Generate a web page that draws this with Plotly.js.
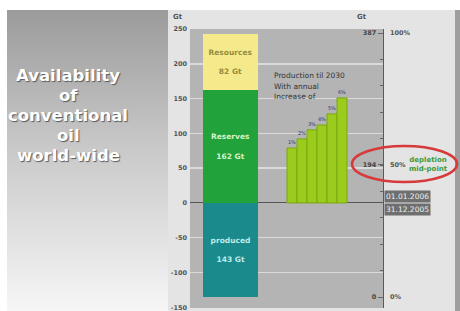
<!DOCTYPE html>
<html>
<head>
<meta charset="utf-8">
<script src="https://cdn.plot.ly/plotly-3.0.1.min.js"></script>
<style>
  html, body { margin: 0; padding: 0; background: #ffffff; }
  #wrap { position: relative; width: 460px; height: 311px; overflow: hidden; }
  .bg { position: absolute; }
  #leftPanel { left: 7px; top: 10px; width: 161px; height: 301px;
    background: linear-gradient(to bottom, #9b9b9b 0%, #c8c8c8 45%, #f6f6f6 100%); }
  #midPanel { left: 168px; top: 10px; width: 287px; height: 301px; background: #e4e4e4; }
  #edge { left: 455px; top: 10px; width: 5px; height: 301px; background: #9e9e9e; }
  #chart { position: absolute; left: 0; top: 0; width: 460px; height: 311px; }
</style>
</head>
<body>
<div id="wrap">
  <div class="bg" id="leftPanel"></div>
  <div class="bg" id="midPanel"></div>
  <div class="bg" id="edge"></div>
  <div id="chart"></div>
</div>
<script>
// ---- data ----
const stackLabels = ['produced', 'Reserves', 'Resources'];
const stackTexts = ['produced<br><br>143 Gt', 'Reserves<br><br>162 Gt', 'Resources<br><br>82 Gt'];
const stackValues = [-135, 162, 81];
const stackColors = ['#1b8a8c', '#22a23a', '#f4ea8c'];
const stackTextColors = ['#bfeaea', '#d6f2c6', '#9a8a3c'];
const stackPos = 4.05;

const prodPos = [10.2, 11.2, 12.2, 13.2, 14.2, 15.2];
const prodValues = [79, 92, 105, 112, 128, 151];
const prodLabels = ['1%', '2%', '3%', '4%', '5%', '6%'];

const leftTicks = [250, 200, 150, 100, 50, 0, -50, -100, -150];
const leftTickText = ['250', '200', '150', '100', '50', '0', '-50', '-100', '-150'];
const rightTickVals = [0, 194, 387];
const rightTickText = ['0', '194', '387'];
const rightPct = ['0%', '50%', '100%'];

const titleLines = ['Availability', 'of', 'conventional', 'oil', 'world-wide'];
const noteLines = ['Production til 2030', 'With annual', 'Increase of'];
const dateLines = ['01.01.2006', '31.12.2005'];

// ---- traces ----
const traces = stackLabels.map((name, i) => ({
  type: 'bar', name: name,
  x: [stackPos], y: [stackValues[i]], width: 5.5,
  marker: { color: stackColors[i], line: { width: 0 } },
  text: [stackTexts[i]], textposition: 'inside', insidetextanchor: 'middle',
  textangle: 0, constraintext: 'none',
  insidetextfont: { family: 'DejaVu Sans', size: 7.5, color: stackTextColors[i], weight: 'bold' },
  hoverinfo: 'skip', yaxis: 'y'
}));

traces.push({
  type: 'bar', name: 'production',
  x: prodPos, y: prodValues, width: 1.0,
  marker: { color: '#9bcb1c', line: { color: '#78a80e', width: 1 } },
  text: prodLabels, textposition: 'outside', cliponaxis: false,
  outsidetextfont: { family: 'DejaVu Sans', size: 5, color: '#2e3a66' },
  textangle: 0, constraintext: 'none',
  hoverinfo: 'skip', yaxis: 'y'
});

// invisible trace for the right axis
traces.push({ type: 'scatter', x: [0], y: [0], yaxis: 'y2', mode: 'markers',
  marker: { opacity: 0 }, hoverinfo: 'skip', showlegend: false });

// ---- annotations ----
const px = v => (v - 190) / 193;   // paper x from layout pixels
const py = v => (308 - v) / 279;   // paper y from layout pixels
const ann = [];
const titleY = [75, 95, 115, 135, 155];
titleLines.forEach((t, i) => ann.push({
  text: t, xref: 'paper', yref: 'paper', x: px(68), y: py(titleY[i]),
  xanchor: 'center', yanchor: 'middle', showarrow: false,
  font: { family: 'DejaVu Sans', size: 16.5, color: '#ffffff', weight: 'bold',
          shadow: '1px 1px 1px #5a5a5a' }
}));
const noteY = [75, 86, 97];
noteLines.forEach((t, i) => ann.push({
  text: t, xref: 'paper', yref: 'paper', x: px(272), y: py(noteY[i]),
  xanchor: 'left', yanchor: 'middle', showarrow: false,
  font: { family: 'DejaVu Sans', size: 7.5, color: '#333333' }
}));
rightTickVals.forEach((v, i) => ann.push({
  text: rightPct[i], xref: 'paper', yref: 'y2', x: 1, y: v, xshift: 5,
  xanchor: 'left', yanchor: 'middle', showarrow: false,
  font: { family: 'DejaVu Sans', size: 6.5, color: '#555555', weight: 'bold' }
}));
ann.push({
  text: 'depletion<br>mid-point', xref: 'paper', yref: 'y2', x: px(428), y: 194,
  xanchor: 'center', yanchor: 'middle', showarrow: false, align: 'center',
  font: { family: 'DejaVu Sans', size: 7, color: '#3c9a3c', weight: 'bold' }
});
const dateY = [196, 209];
dateLines.forEach((t, i) => ann.push({
  text: t, xref: 'paper', yref: 'paper', x: px(384), y: py(dateY[i]),
  xanchor: 'left', yanchor: 'middle', showarrow: false,
  bgcolor: '#6f6f6f', borderpad: 1,
  font: { family: 'DejaVu Sans', size: 7.5, color: '#f0f0f0' }
}));
ann.push({ text: 'Gt', xref: 'paper', yref: 'paper', x: px(178), y: py(17),
  xanchor: 'center', yanchor: 'middle', showarrow: false,
  font: { family: 'DejaVu Sans', size: 7, color: '#555555', weight: 'bold' } });
ann.push({ text: 'Gt', xref: 'paper', yref: 'paper', x: px(362), y: py(17),
  xanchor: 'center', yanchor: 'middle', showarrow: false,
  font: { family: 'DejaVu Sans', size: 7, color: '#555555', weight: 'bold' } });

const layout = {
  width: 460, height: 311,
  margin: { l: 190, r: 77, t: 29, b: 3, pad: 0 },
  paper_bgcolor: 'rgba(0,0,0,0)', plot_bgcolor: '#b4b4b4',
  showlegend: false, barmode: 'relative', bargap: 0,
  xaxis: { range: [0, 19.3], visible: false, fixedrange: true },
  yaxis: {
    range: [-151, 250], tickvals: leftTicks, ticktext: leftTickText, ticks: '',
    showgrid: true, gridcolor: '#dadada', gridwidth: 1.5,
    zeroline: true, zerolinecolor: '#555555', zerolinewidth: 1,
    tickfont: { family: 'DejaVu Sans', size: 6.5, color: '#555555', weight: 'bold' },
    ticklabelstandoff: 2, ticklabeloverflow: 'allow', fixedrange: true
  },
  yaxis2: {
    overlaying: 'y', side: 'right', range: [-16, 393],
    tickvals: rightTickVals, ticktext: rightTickText,
    ticklabelposition: 'inside', ticks: 'inside', ticklen: 5, tickcolor: '#666666',
    minor: { tick0: 0, dtick: 38.7, ticks: 'inside', ticklen: 3, tickcolor: '#666666', showgrid: false },
    showgrid: false, zeroline: false,
    showline: true, linecolor: '#5a5a5a', linewidth: 1,
    tickfont: { family: 'DejaVu Sans', size: 6.5, color: '#444444', weight: 'bold' },
    fixedrange: true
  },
  shapes: [
    { type: 'circle', xref: 'paper', yref: 'paper',
      x0: px(352), x1: px(457), y0: py(182), y1: py(146),
      line: { color: '#d63a3a', width: 2.5 }, fillcolor: 'rgba(0,0,0,0)' }
  ],
  annotations: ann
};

Plotly.newPlot('chart', traces, layout, { displayModeBar: false, staticPlot: true });
</script>
</body>
</html>
